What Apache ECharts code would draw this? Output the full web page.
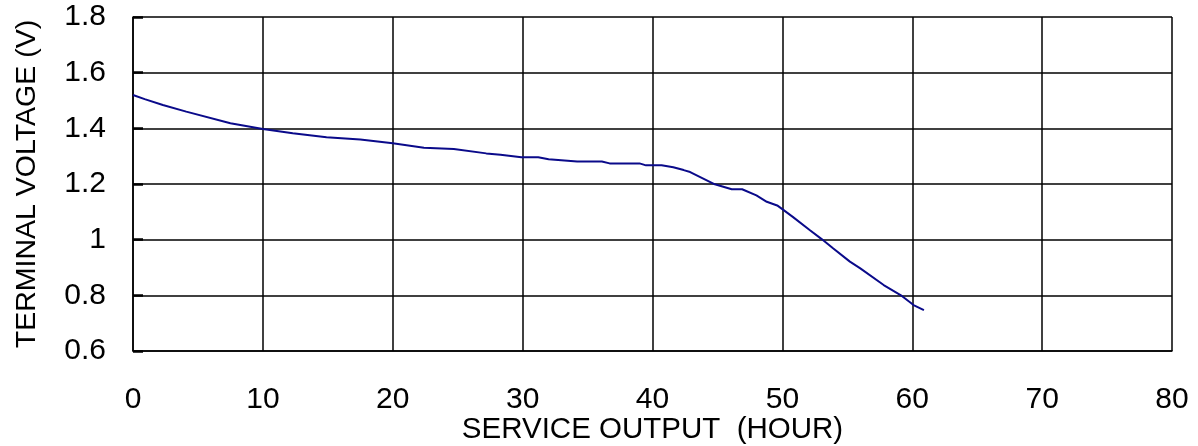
<!DOCTYPE html>
<html>
<head>
<meta charset="utf-8">
<script src="https://cdn.jsdelivr.net/npm/echarts@6/dist/echarts.min.js"></script>
<style>
html,body{margin:0;padding:0;background:#fff;}
#c{width:1198px;height:446px;}
</style>
</head>
<body>
<div id="c"></div>
<script>
var hours = [0, 0.9, 2.3, 4.1, 7.5, 10.0, 12.3, 14.9, 17.5, 20.0, 22.4, 24.7, 27.2, 28.3, 29.9, 31.2, 32.0, 34.2, 36.1, 36.7, 39.0, 39.5, 40.7, 41.6, 42.4, 42.9, 44.8, 46.1, 46.9, 48.0, 48.8, 49.6, 50.1, 50.8, 52.1, 53.0, 53.9, 55.2, 56.0, 57.8, 59.1, 60.1, 60.9];
var volts = [1.52, 1.505, 1.484, 1.46, 1.418, 1.398, 1.382, 1.368, 1.36, 1.346, 1.33, 1.326, 1.31, 1.305, 1.296, 1.296, 1.289, 1.281, 1.281, 1.274, 1.274, 1.267, 1.267, 1.26, 1.25, 1.243, 1.199, 1.181, 1.181, 1.159, 1.136, 1.123, 1.106, 1.082, 1.035, 1.003, 0.969, 0.921, 0.897, 0.837, 0.801, 0.765, 0.747];
var xTitle = 'SERVICE OUTPUT  (HOUR)';
var yTitle = 'TERMINAL VOLTAGE (V)';

var pts = hours.map(function(h, i){ return [h, volts[i]]; });
var font = 'Liberation Sans, Arial, sans-serif';
var chart = echarts.init(document.getElementById('c'));
chart.setOption({
  animation: false,
  grid: {left: 133, right: 26, top: 17, bottom: 95, containLabel: false, outerBoundsMode: 'none'},
  xAxis: {
    type: 'value', min: 0, max: 80, interval: 10,
    name: xTitle, nameLocation: 'middle', nameGap: 64, nameMoveOverlap: false,
    nameTextStyle: {color: '#000', fontSize: 29.5, fontFamily: font},
    axisLine: {show: true, lineStyle: {color: '#000', width: 1.5}},
    axisTick: {show: false},
    axisLabel: {color: '#000', fontSize: 30, fontFamily: font, margin: 34},
    splitLine: {show: true, lineStyle: {color: '#000', width: 1.5}}
  },
  yAxis: {
    type: 'value', min: 0.6, max: 1.8, interval: 0.2,
    name: yTitle, nameLocation: 'middle', nameGap: 91, nameMoveOverlap: false,
    nameTextStyle: {color: '#000', fontSize: 28.5, fontFamily: font},
    axisLine: {show: true, lineStyle: {color: '#000', width: 1.5}},
    axisTick: {show: true, inside: true, length: 10, lineStyle: {color: '#000', width: 2.5}},
    axisLabel: {color: '#000', fontSize: 30, fontFamily: font, margin: 27,
      formatter: function(v){ return String(+v.toFixed(1)); }},
    splitLine: {show: true, lineStyle: {color: '#000', width: 1.5}}
  },
  series: [{
    type: 'line', data: pts, showSymbol: false, smooth: false,
    lineStyle: {color: '#0a0a8a', width: 2}
  }]
});
</script>
</body>
</html>
